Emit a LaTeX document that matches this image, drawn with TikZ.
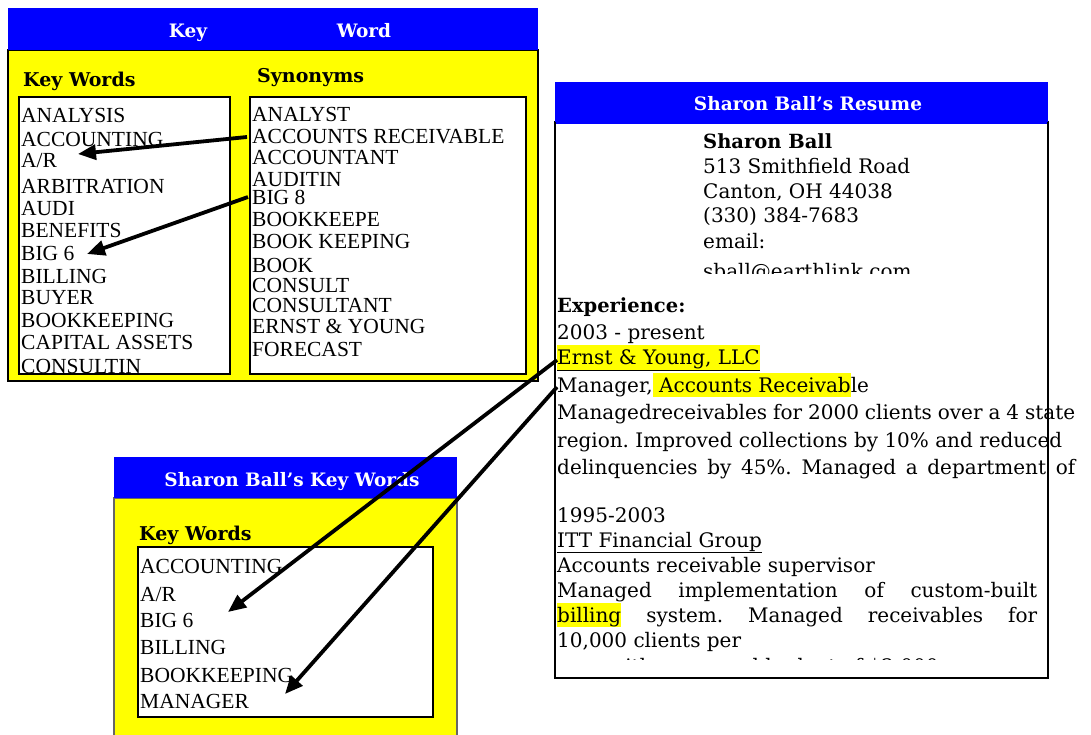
\documentclass[tikz,border=0pt]{standalone}
\usepackage{fontspec}
\setmainfont{Liberation Serif}
\newfontfamily\rsf{DejaVu Serif}
\usetikzlibrary{arrows.meta}
\definecolor{yel}{RGB}{255,255,0}
\definecolor{blu}{RGB}{0,0,255}
\newcommand{\hlt}[1]{{\setlength{\fboxsep}{0pt}\colorbox{yel}{\rule[-5pt]{0pt}{24pt}#1}}}
\frenchspacing
\tikzset{
  listtxt/.style={anchor=base west, inner sep=0pt, font=\fontsize{21.5}{25}\selectfont},
  rtxt/.style={anchor=base west, inner sep=0pt, font=\rsf\fontsize{20}{24}\selectfont},
  rbold/.style={anchor=base west, inner sep=0pt, font=\rsf\bfseries\fontsize{19.5}{24}\selectfont},
  hdr/.style={anchor=base, inner sep=0pt, text=white, font=\rsf\bfseries\fontsize{18.5}{22}\selectfont},
  lbl/.style={anchor=base west, inner sep=0pt, font=\rsf\bfseries\fontsize{19}{22}\selectfont},
  bluebar/.style={fill=blu, draw=none, anchor=north west, inner sep=0pt, outer sep=0pt},
  yellowpanel/.style={fill=yel, draw=black, line width=1.2pt, anchor=north west, inner sep=0pt, outer sep=0pt},
  whitebox/.style={fill=white, draw=black, line width=1.2pt, anchor=north west, inner sep=0pt, outer sep=0pt},
  arr/.style={line width=3.8pt, -{Triangle[length=18pt,width=15pt]}}
}
\begin{document}
\begin{tikzpicture}[x=1pt,y=-1pt]
\useasboundingbox (0,0) rectangle (1091,735);
\fill[white] (0,0) rectangle (1091,735);

% ---------- Key Word panel ----------
\node[yellowpanel, minimum width=530pt, minimum height=331pt] (kwpanel) at (8,50) {};
\node[bluebar, minimum width=530pt, minimum height=42pt] (kwbar) at (8,8) {};
\node[hdr] (hkey) at (188,38) {Key};
\node[hdr] (hword) at (364,38) {Word};
\node[lbl] (lkw) at (23,87) {Key Words};
\node[lbl] (lsyn) at (257,83) {Synonyms};
\node[whitebox, minimum width=211pt, minimum height=277pt] (kwbox) at (19,97) {};
\node[whitebox, minimum width=276pt, minimum height=277pt] (synbox) at (250,97) {};

\node[listtxt] (k1) at (21,123) {ANALYSIS};
\node[listtxt] (k2) at (21,147) {ACCOUNTING};
\node[listtxt] (k3) at (21,168) {A/R};
\node[listtxt] (k4) at (21,194) {ARBITRATION};
\node[listtxt] (k5) at (21,215) {AUDI};
\node[listtxt] (k6) at (21,237) {BENEFITS};
\node[listtxt] (k7) at (21,260) {BIG 6};
\node[listtxt] (k8) at (21,283) {BILLING};
\node[listtxt] (k9) at (21,304) {BUYER};
\node[listtxt] (k10) at (21,327) {BOOKKEEPING};
\node[listtxt] (k11) at (21,349) {CAPITAL ASSETS};
\node[listtxt] (k12) at (21,373) {CONSULTIN};

\node[listtxt] (s1) at (252,122) {ANALYST};
\node[listtxt] (s2) at (252,144) {ACCOUNTS RECEIVABLE};
\node[listtxt] (s3) at (252,165) {ACCOUNTANT};
\node[listtxt] (s4) at (252,187) {AUDITIN};
\node[listtxt] (s5) at (252,205) {BIG 8};
\node[listtxt] (s6) at (252,227) {BOOKKEEPE};
\node[listtxt] (s7) at (252,248) {BOOK KEEPING};
\node[listtxt] (s8) at (252,272) {BOOK};
\node[listtxt] (s9) at (252,292) {CONSULT};
\node[listtxt] (s10) at (252,312) {CONSULTANT};
\node[listtxt] (s11) at (252,333) {ERNST \& YOUNG};
\node[listtxt] (s12) at (252,356) {FORECAST};

% ---------- Resume ----------
\node[whitebox, minimum width=493pt, minimum height=556pt] (resbox) at (555,122) {};
\node[bluebar, minimum width=493pt, minimum height=42pt] (resbar) at (555,82) {};
\node[hdr] (hres) at (808,111) {Sharon Ball’s Resume};

\node[rbold] (rname) at (703,149) {Sharon Ball};
\node[rtxt] (raddr) at (703,174) {513 Smithfield Road};
\node[rtxt] (rcity) at (703,199) {Canton, OH 44038};
\node[rtxt] (rphone) at (703,223) {(330) 384-7683};
\node[rtxt] (remail) at (703,248) {email:};
\begin{scope}
  \clip (556,255) rectangle (1047,273);
  \node[rtxt] (rmail) at (703,278) {sball@earthlink.com};
\end{scope}

\node[rbold] (rexp) at (557,312) {Experience:};
\node[rtxt] (r1) at (557,339) {2003 - present};
\node[rtxt] (r2) at (557,364) {\hlt{\underline{Ernst \& Young, LLC}}};
\node[rtxt] (r3) at (557,392) {Manager,\hlt{\ Accounts Receivab}le};
\node[rtxt] (r4) at (557,419) {\makebox[518pt][s]{Managedreceivables for 2000 clients over a 4 state}};
\node[rtxt] (r5) at (557,447) {region. Improved collections by 10\% and reduced};
\node[rtxt] (r6) at (557,474) {\makebox[518pt][s]{delinquencies by 45\%. Managed a department of}};
\node[rtxt] (r7) at (557,522) {1995-2003};
\node[rtxt] (r8) at (557,547) {\underline{ITT Financial Group}};
\node[rtxt] (r9) at (557,572) {Accounts receivable supervisor};
\node[rtxt] (r10) at (557,597) {\makebox[480pt][s]{Managed implementation of custom-built}};
\node[rtxt] (r11) at (557,622) {\makebox[480pt][s]{\hlt{billing} system. Managed receivables for}};
\node[rtxt] (r12) at (557,647) {10,000 clients per};
\begin{scope}
  \clip (556,652) rectangle (1047,659);
  \node[rtxt] (r13) at (557,673) {year with an annual budget of \$2,000};
\end{scope}
\draw[line width=1.2pt] (resbox.north west) -- (resbox.south west) -- (resbox.south east) -- (resbox.north east);

% ---------- Sharon Ball's Key Words ----------
\node[yellowpanel, draw=black!60, minimum width=343pt, minimum height=245pt] (sbpanel) at (114,498) {};
\node[bluebar, minimum width=343pt, minimum height=41pt] (sbbar) at (114,457) {};
\node[hdr] (hsb) at (292,486) {Sharon Ball’s Key Words};
\node[lbl] (lsb) at (139,540) {Key Words};
\node[whitebox, minimum width=295pt, minimum height=170pt] (sbbox) at (138,547) {};
\node[listtxt] (b1) at (140,573) {ACCOUNTING};
\node[listtxt] (b2) at (140,601) {A/R};
\node[listtxt] (b3) at (140,627) {BIG 6};
\node[listtxt] (b4) at (140,654) {BILLING};
\node[listtxt] (b5) at (140,682) {BOOKKEEPING};
\node[listtxt] (b6) at (140,708) {MANAGER};

% ---------- arrows ----------
\coordinate (a1s) at (247,137);
\coordinate (a1e) at (78,154);
\coordinate (a2s) at (248,197);
\coordinate (a2e) at (87,254);
\coordinate (a3s) at (557,360);
\coordinate (a3e) at (228,612);
\coordinate (a4s) at (557,387);
\coordinate (a4e) at (285,694);
\draw[arr] (a1s) -- (a1e);
\draw[arr] (a2s) -- (a2e);
\draw[arr] (a3s) -- (a3e);
\draw[arr] (a4s) -- (a4e);
\end{tikzpicture}
\end{document}
